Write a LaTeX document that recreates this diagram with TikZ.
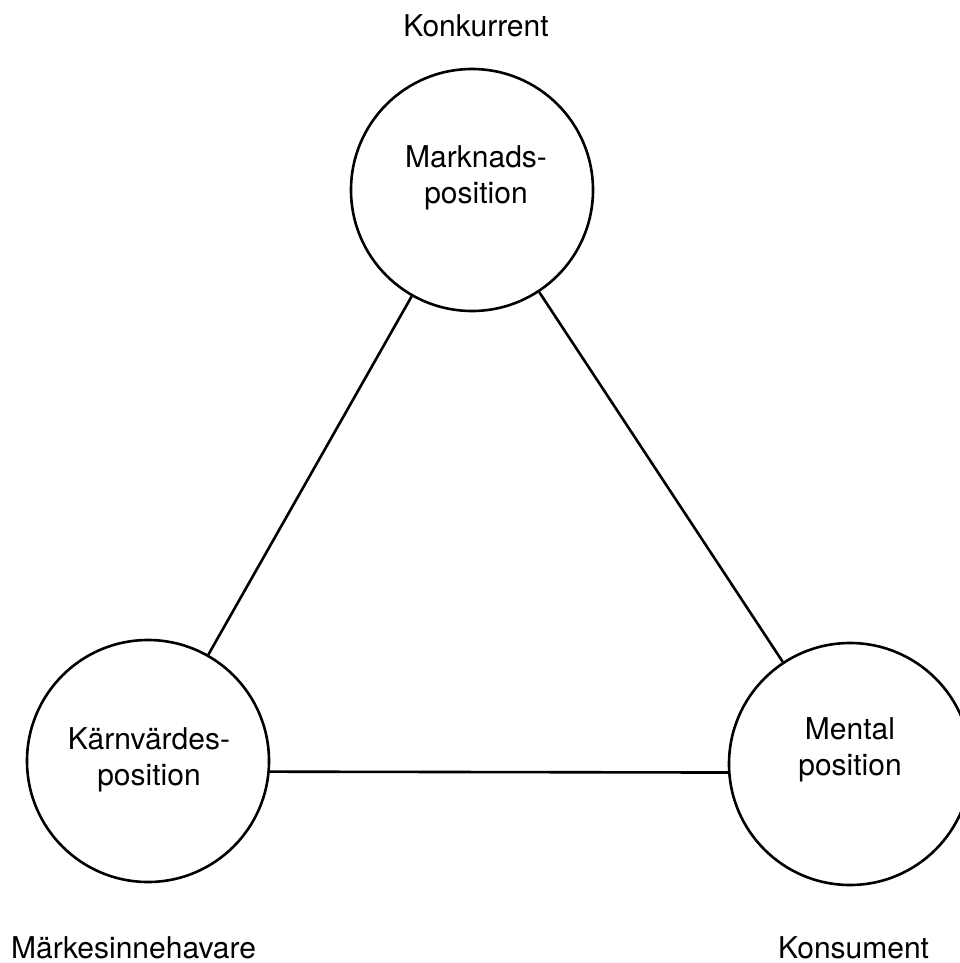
\documentclass[tikz,border=0pt]{standalone}
\usepackage{fontspec}
\setmainfont{TeX Gyre Heros}
\begin{document}
\begin{tikzpicture}[x=1pt,y=-1pt,
  posbox/.style={circle,draw,line width=2.6pt,minimum size=242pt,inner sep=0pt},
  lbl/.style={font=\fontsize{30}{36}\selectfont,align=center,inner sep=0pt},
  conn/.style={line width=2.6pt}]
\useasboundingbox (0,0) rectangle (960,963);
\clip (0,0) rectangle (960,963);
\node[posbox] (top) at (472,190) {};
\node[posbox] (left) at (148,761) {};
\node[posbox] (right) at (850,764) {};
\node[lbl] (toptxt) at (476,178) {Marknads-\\position};
\node[lbl] (lefttxt) at (149,760) {Kärnvärdes-\\position};
\node[lbl] (righttxt) at (850,750) {Mental\\position};
\node[lbl,anchor=base] (konk) at (476,37) {Konkurrent};
\node[lbl,anchor=base west] (mark) at (11,958) {Märkesinnehavare};
\node[lbl,anchor=base west] (kons) at (778,958) {Konsument};
\draw[conn] (top) -- (left);
\draw[conn] (top) -- (right);
\draw[conn] (left.-5.7) -- (right.184.3);
\end{tikzpicture}
\end{document}
